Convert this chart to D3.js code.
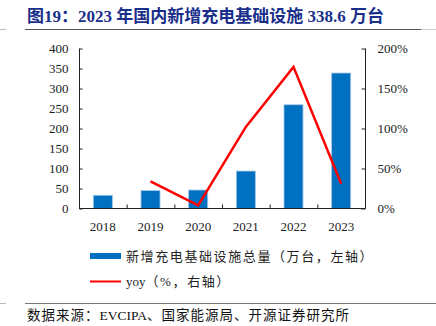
<!DOCTYPE html>
<html>
<head>
<meta charset="utf-8">
<script src="https://d3js.org/d3.v7.min.js"></script>
<style>
body { margin: 0; background: #fff; }
text { font-family: "Liberation Serif", "Noto Sans CJK SC", serif; }
</style>
</head>
<body>
<script>
var years = ["2018", "2019", "2020", "2021", "2022", "2023"];
var totals = [33.0, 44.7, 46.2, 93.6, 259.3, 338.6];
var yoyYears = ["2019", "2020", "2021", "2022", "2023"];
var yoy = [34, 4, 102, 177, 31];
var leftTicks = [0, 50, 100, 150, 200, 250, 300, 350, 400];
var rightTicks = [0, 50, 100, 150, 200];

var W = 436, H = 326;
var svg = d3.select("body").append("svg")
  .attr("width", W)
  .attr("height", H);

// mixed text: latin parts without letter spacing, chinese parts spaced
function mixedText(x0, y0, size, parts, spacing) {
  var t = svg.append("text").attr("x", x0).attr("y", y0)
    .attr("font-size", size).attr("fill", "#111");
  parts.forEach(function(p) {
    t.append("tspan")
      .attr("letter-spacing", /[A-Za-z]/.test(p) ? 0 : spacing)
      .text(p);
  });
  return t;
}

// title + rules
svg.append("text")
  .attr("x", 27).attr("y", 22)
  .attr("font-size", 17).attr("font-weight", "bold")
  .attr("fill", "#1a2f8a")
  .style("white-space", "pre")
  .text("图19：2023 年国内新增充电基础设施 338.6 万台");
svg.append("line").attr("x1", 25).attr("x2", 421).attr("y1", 29.5).attr("y2", 29.5)
  .attr("stroke", "#555").attr("stroke-width", 1.2);
svg.append("line").attr("x1", 0).attr("x2", 6).attr("y1", 29.5).attr("y2", 29.5)
  .attr("stroke", "#bbb");
svg.append("line").attr("x1", 421).attr("x2", 436).attr("y1", 29.5).attr("y2", 29.5)
  .attr("stroke", "#ccc");

svg.append("line").attr("x1", 25).attr("x2", 436).attr("y1", 303.5).attr("y2", 303.5)
  .attr("stroke", "#777").attr("stroke-width", 1.2);
svg.append("line").attr("x1", 0).attr("x2", 6).attr("y1", 303.5).attr("y2", 303.5)
  .attr("stroke", "#bbb");
mixedText(27, 320, 13.5, ["数据来源：", "EVCIPA", "、国家能源局、开源证券研究所"], 1.0);

// scales
var x = d3.scaleBand().domain(years).range([79, 365]);
var y = d3.scaleLinear().domain([0, 400]).range([208.5, 48.5]);
var y2 = d3.scaleLinear().domain([0, 200]).range([208.5, 48.5]);

// bars
svg.selectAll("rect.bar")
  .data(years)
  .enter().append("rect")
  .attr("class", "bar")
  .attr("x", function(d) { return x(d) + x.bandwidth() / 2 - 9.5; })
  .attr("width", 19)
  .attr("y", function(d, i) { return y(totals[i]); })
  .attr("height", function(d, i) { return y(0) - y(totals[i]); })
  .attr("fill", "#0070c0")
  .attr("stroke", "#9dc3e6")
  .attr("stroke-width", 0.8);

// yoy line
var line = d3.line()
  .x(function(d, i) { return x(yoyYears[i]) + x.bandwidth() / 2; })
  .y(function(d) { return y2(d); });
svg.append("path")
  .datum(yoy)
  .attr("d", line)
  .attr("fill", "none")
  .attr("stroke", "#ff0000")
  .attr("stroke-width", 2.5)
  .attr("stroke-linejoin", "miter");

// axes
var axLeft = svg.append("g")
  .attr("transform", "translate(79.5,0)")
  .call(d3.axisLeft(y).tickValues(leftTicks).tickSize(-3).tickPadding(11));
var axRight = svg.append("g")
  .attr("transform", "translate(365.5,0)")
  .call(d3.axisRight(y2).tickValues(rightTicks).tickSize(-4).tickPadding(12)
    .tickFormat(function(d) { return d + "%"; }));
var axBottom = svg.append("g")
  .attr("transform", "translate(0,208.5)")
  .call(d3.axisBottom(x).tickSize(0).tickPadding(13));

// tick marks between categories on x axis
var bounds = years.slice(1).map(function(d) { return x(d); });
svg.selectAll("line.xt")
  .data(bounds)
  .enter().append("line")
  .attr("x1", function(d) { return d + 0.5; })
  .attr("x2", function(d) { return d + 0.5; })
  .attr("y1", 204.5).attr("y2", 208.5)
  .attr("stroke", "#222");

[axLeft, axRight, axBottom].forEach(function(g) {
  g.selectAll(".domain").attr("stroke", "#222");
  g.selectAll(".tick line").attr("stroke", "#222");
  g.selectAll("text")
    .attr("font-family", "Liberation Serif, serif")
    .attr("font-size", 13)
    .attr("fill", "#222");
});
axLeft.select(".domain").attr("d", "M0,48.5V208.5");
axRight.select(".domain").attr("d", "M0,48.5V208.5");
axBottom.select(".domain").attr("d", "M79,0H365.5");

// legend
svg.append("rect")
  .attr("x", 90).attr("y", 253)
  .attr("width", 31).attr("height", 6)
  .attr("fill", "#0070c0");
mixedText(126, 261, 13, ["新增充电基础设施总量（万台，左轴）"], 1.6).attr("fill", "#222");
svg.append("line")
  .attr("x1", 90).attr("x2", 121).attr("y1", 281.5).attr("y2", 281.5)
  .attr("stroke", "#ff0000").attr("stroke-width", 2);
mixedText(126, 286, 13, ["yoy", "（%，右轴）"], 1.6).attr("fill", "#222");
</script>
</body>
</html>
